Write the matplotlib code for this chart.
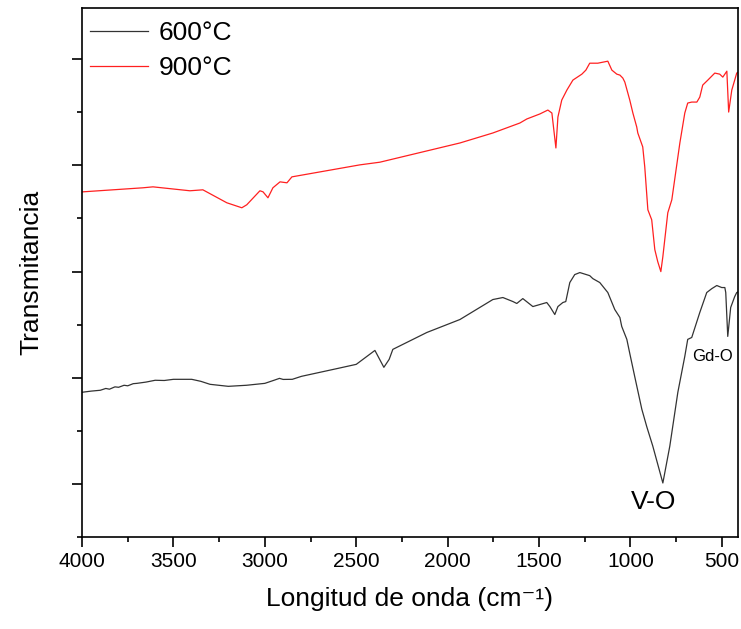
import matplotlib
matplotlib.use("Agg")
import matplotlib.pyplot as plt
from matplotlib.ticker import MultipleLocator

plt.rcParams["font.family"] = ["Liberation Sans", "DejaVu Sans"]

# espectros FTIR (numero de onda, transmitancia en unidades arbitrarias)
wn_600 = [4000, 3950, 3900, 3870, 3850, 3820, 3800, 3770, 3750, 3720, 3700, 3650,
          3600, 3550, 3500, 3400, 3350, 3300, 3200, 3100, 3000, 2950, 2920, 2900,
          2850, 2800, 2600, 2500, 2398, 2349, 2320, 2300, 2114, 1933, 1753, 1698,
          1643, 1622, 1589, 1534, 1496, 1458, 1441, 1414, 1397, 1370, 1354, 1332,
          1305, 1277, 1223, 1206, 1168, 1124, 1086, 1058, 1048, 1020, 1004, 976,
          938, 911, 878, 823, 785, 741, 703, 687, 665, 621, 583, 555, 528,
          501, 484, 479, 468, 452, 430, 419, 410]
t_600 = [0.864, 0.875, 0.883, 0.900, 0.893, 0.915, 0.911, 0.930, 0.925, 0.945,
         0.948, 0.960, 0.977, 0.975, 0.986, 0.986, 0.967, 0.939, 0.920, 0.930,
         0.948, 0.977, 0.995, 0.985, 0.986, 1.014, 1.089, 1.127, 1.258, 1.099,
         1.174, 1.268, 1.427, 1.549, 1.737, 1.756, 1.718, 1.700, 1.746, 1.671,
         1.690, 1.709, 1.671, 1.596, 1.671, 1.709, 1.718, 1.897, 1.972, 1.991,
         1.962, 1.934, 1.897, 1.803, 1.643, 1.568, 1.484, 1.362, 1.230, 1.005,
         0.704, 0.540, 0.357, 0.010, 0.357, 0.864, 1.202, 1.362, 1.380,
         1.615, 1.803, 1.840, 1.869, 1.850, 1.850, 1.803, 1.390, 1.662, 1.765,
         1.803, 1.810]

wn_900 = [4000, 3995, 3667, 3612, 3410, 3339, 3208, 3126, 3099, 3027, 3010, 2983,
          2956, 2917, 2879, 2852, 2480, 2371, 1933, 1753, 1605, 1567, 1496, 1452,
          1430, 1408, 1397, 1376, 1348, 1315, 1266, 1244, 1223, 1179, 1124, 1102,
          1075, 1058, 1042, 1031, 1004, 987, 966, 960, 933, 922, 905, 884, 867,
          851, 834, 823, 796, 774, 730, 703, 687, 665, 637, 621, 605, 577, 539,
          512, 495, 473, 463, 446, 430, 419, 410]
t_900 = [2.750, 2.751, 2.789, 2.798, 2.761, 2.770, 2.648, 2.601, 2.629, 2.761,
         2.751, 2.695, 2.789, 2.845, 2.836, 2.892, 3.005, 3.030, 3.211, 3.305,
         3.399, 3.437, 3.484, 3.521, 3.493, 3.164, 3.455, 3.615, 3.709, 3.803,
         3.859, 3.897, 3.962, 3.962, 3.981, 3.897, 3.859, 3.850, 3.822, 3.784,
         3.615, 3.493, 3.362, 3.305, 3.174, 2.986, 2.582, 2.488, 2.207, 2.094,
         2.000, 2.141, 2.554, 2.676, 3.211, 3.493, 3.587, 3.596, 3.596, 3.643,
         3.756, 3.803, 3.869, 3.859, 3.831, 3.887, 3.502, 3.709, 3.803, 3.869,
         3.880]

fig = plt.figure(figsize=(7.41, 6.29), dpi=100)
ax = fig.add_axes([0.1107, 0.146, 0.885, 0.841])

ax.plot(wn_600, t_600, color="#333333", lw=0.9, label="600°C")
ax.plot(wn_900, t_900, color="#ff2020", lw=0.9, label="900°C")

ax.set_xlim(4000, 413)
ax.set_ylim(-0.5, 4.48)

ax.xaxis.set_major_locator(MultipleLocator(500))
ax.xaxis.set_minor_locator(MultipleLocator(250))
ax.yaxis.set_major_locator(MultipleLocator(1))
ax.yaxis.set_minor_locator(MultipleLocator(0.5))
ax.set_yticklabels([])

ax.tick_params(which="major", direction="out", length=7, width=1.2, labelsize=15)
ax.tick_params(which="minor", direction="out", length=3.5, width=1.2)
for s in ax.spines.values():
    s.set_linewidth(1.2)

ax.set_xlabel("Longitud de onda (cm⁻¹)", fontsize=19, labelpad=12)
ax.set_ylabel("Transmitancia", fontsize=19, labelpad=17)

ax.text(873, -0.17, "V-O", fontsize=19, ha="center", va="center")
ax.text(550, 1.20, "Gd-O", fontsize=12, ha="center", va="center")

ax.legend(loc="upper left", bbox_to_anchor=(-0.008, 1.0), frameon=False,
          fontsize=19, handlelength=2.2, handletextpad=0.4, labelspacing=0.4,
          borderaxespad=0.3, borderpad=0.2)

fig.savefig("out.png", dpi=100)
